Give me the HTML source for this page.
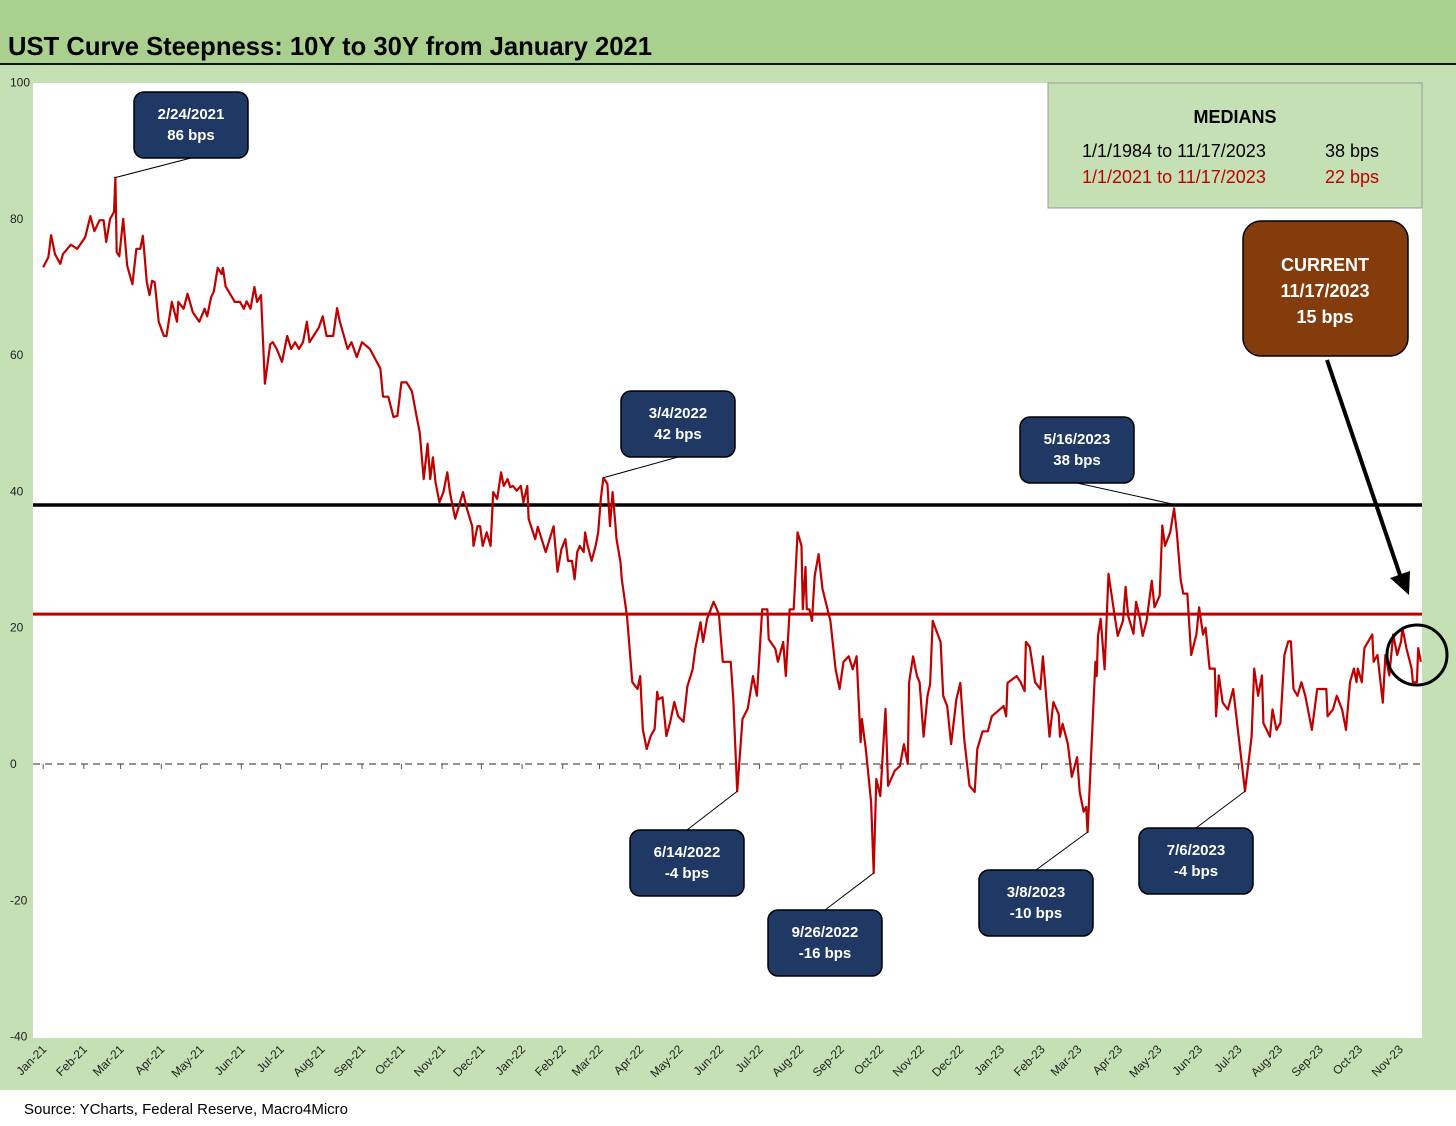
<!DOCTYPE html>
<html><head><meta charset="utf-8"><style>
html,body{margin:0;padding:0;background:#fff}
svg{display:block}
text{font-family:"Liberation Sans",sans-serif}
</style></head><body>
<svg id="chart" width="1456" height="1126" viewBox="0 0 1456 1126">
<rect x="0" y="0" width="1456" height="1090" fill="#c5e0b4"/>
<rect x="0" y="0" width="1456" height="63" fill="#a9d08e"/>
<line x1="0" y1="64" x2="1456" y2="64" stroke="#111" stroke-width="2"/>
<text x="8" y="55" font-size="26" font-weight="bold" textLength="644" lengthAdjust="spacingAndGlyphs" fill="#000">UST Curve Steepness: 10Y to 30Y from January 2021</text>
<rect x="33" y="83" width="1389" height="955" fill="#fff"/>
<rect x="0" y="1090" width="1456" height="36" fill="#fff"/>
<text x="24" y="1114" font-size="15" fill="#000">Source: YCharts, Federal Reserve, Macro4Micro</text>
<g id="axes"></g>
<g id="series"></g>
<g id="annot"></g>
</svg>
<script>
const yTicks=[100,80,60,40,20,0,-20,-40];
const monthLabels=["Jan-21","Feb-21","Mar-21","Apr-21","May-21","Jun-21","Jul-21","Aug-21","Sep-21","Oct-21","Nov-21","Dec-21","Jan-22","Feb-22","Mar-22","Apr-22","May-22","Jun-22","Jul-22","Aug-22","Sep-22","Oct-22","Nov-22","Dec-22","Jan-23","Feb-23","Mar-23","Apr-23","May-23","Jun-23","Jul-23","Aug-23","Sep-23","Oct-23","Nov-23"];
const medianLong=38;
const median2021=22;
const days=[0,4,6,9,13,15,21,26,32,36,39,43,46,48,51,54,55,56,58,61,64,68,71,74,76,79,81,83,85,88,92,94,98,102,103,107,110,114,119,123,125,128,130,133,136,137,139,146,150,153,155,158,161,163,166,169,173,175,178,182,186,189,192,195,198,201,203,210,213,216,221,224,226,232,235,239,243,249,257,259,263,267,270,273,277,281,285,287,290,293,295,297,299,302,305,308,310,314,320,323,327,328,331,333,335,338,341,343,346,349,351,354,356,358,361,364,366,369,370,375,377,383,389,392,395,398,400,403,404,405,407,409,412,413,415,418,421,423,425,427,430,432,434,436,437,440,441,445,449,453,455,457,460,463,466,468,469,472,475,478,481,484,488,491,495,497,501,503,506,511,515,518,524,526,529,533,537,541,544,548,552,553,558,560,564,566,569,572,575,578,579,581,582,584,586,588,591,594,600,604,607,610,614,617,620,623,624,627,631,633,635,638,642,644,649,653,656,659,660,663,666,668,671,674,676,678,684,686,689,692,696,699,702,706,710,712,716,720,723,732,734,735,742,745,748,749,752,756,760,762,767,770,774,775,777,781,784,788,790,793,795,796,802,803,804,806,809,812,815,819,823,825,827,831,833,836,838,841,845,847,851,853,855,859,862,864,867,869,872,875,879,881,884,886,889,893,894,896,899,903,907,910,916,921,923,926,929,930,935,937,940,943,946,949,951,953,956,959,962,967,971,978,979,983,986,990,993,996,999,1001,1002,1005,1007,1013,1014,1017,1021,1023,1026,1029,1032,1035,1036,1039,1043,1044,1047,1048,1050];
const bps=[72.9,74.4,77.6,74.8,73.4,74.8,76.2,75.6,77.3,80.4,78.2,79.8,79.8,76.6,80,81,86,75.1,74.5,80,73.1,70.4,75.6,75.6,77.5,70.7,68.8,70.9,70.7,64.9,62.8,62.8,67.8,64.9,67.8,66.8,69,66.3,64.9,66.8,65.7,68.5,69.3,72.8,71.9,72.8,70.1,67.8,67.8,66.8,67.9,66.8,70,67.8,68.8,55.8,61.6,61.9,60.9,59,62.8,60.9,61.9,60.9,61.9,64.9,61.9,64,65.7,62.8,62.8,66.9,65,60.9,61.9,59.7,61.9,60.9,58,53.9,53.9,50.9,51.1,56,56,54.7,50.6,48.7,41.8,47,41.8,45,41.4,38.4,39.9,42.8,39.9,36,39.9,37.4,34.9,32,34.9,34.9,32,34,32,39.9,38.9,42.8,40.8,41.8,40.6,40.8,40.1,40.8,38.4,40.8,36,33,34.8,31.1,34.9,28.2,31.5,33,29.8,29.8,28.6,27.1,31.1,32,31.1,34,32,29.8,32,34,38.9,42,41.1,34.9,39.9,35.5,33,29.6,27.1,21.7,12,11,12.9,5.1,2.2,4.1,5.1,10.6,9.5,9.8,4.1,6.2,9.1,7,6.2,11.4,13.9,16.9,20.8,17.9,21.3,23.8,22,15,15,9.5,-4,6.6,8.1,12.9,10,22.7,22.7,18.3,16.9,15,17.9,12.9,22.7,22.7,34,32,22.7,28.9,22.7,22.7,21,27.6,30.8,25.7,21,13.9,11,15,15.8,13.9,15.8,3.2,6.6,2.2,-5.6,-16,-2.2,-4.7,8.1,-3.2,-1,-0.3,2.9,0,12,15.8,12.9,12,4,10,11.7,21,17.9,10,8.5,2.9,9.5,11.9,3.7,-3.2,-4.1,2.2,4.8,4.8,7,8.5,7,11.9,12.9,12,10.7,17.9,17.2,12,11,15.8,4,9.1,7.3,4,5.9,2.9,-1.9,1,-4.1,-7,-6.3,-10,15,12.9,18.8,21.3,13.9,27.9,23.9,18.8,21,26,21.7,19.1,23.8,21.3,18.8,21,26.9,23,24.7,35,32,34,37.5,34,27,25,25,16,19,23,19,20,14,14,7,13,9,8,11,6,-4,4,14,10,13,6,4,8,5,6,16,18,18,11,10,12,10,5,11,11,7,8,10,8,5,12,14,12,14,12,17,19,15,16,9,16,13,19,16,18,20,17,14,12,12,17,15];
const calloutDates=["2/24/2021","3/4/2022","5/16/2023","6/14/2022","9/26/2022","3/8/2023","7/6/2023"];
const calloutValues=[86,42,38,-4,-16,-10,-4];
const calloutDays=[54,427,864,529,633,796,916];

const NS="http://www.w3.org/2000/svg";
function mk(tag,attrs,parent,txt){const e=document.createElementNS(NS,tag);for(const k in attrs)e.setAttribute(k,attrs[k]);if(txt!==undefined)e.textContent=txt;parent.appendChild(e);return e;}
const X0=43.2,XS=1.312;
function xs(d){return X0+d*XS;}
const Y_TOP=82.5,Y_BOT=1036.6;
function ys(v){return Y_BOT-(v-(-40))/(140)*(Y_BOT-Y_TOP);}
function dayOfMonth(i){return Math.round((Date.UTC(2021,i,1)-Date.UTC(2021,0,1))/86400000);}

const axes=document.getElementById('axes');
yTicks.forEach(t=>{
  const e=mk('text',{x:10,y:ys(t)+4,'font-size':12,fill:'#222'},axes,String(t));
  
  
});
// zero line
const zl=mk('line',{x1:33,y1:ys(0),x2:1422,y2:ys(0),stroke:'#555','stroke-width':1.3,'stroke-dasharray':'7,5'},axes);


monthLabels.forEach((m,i)=>{
  const x=xs(dayOfMonth(i));
  const tk=mk('line',{x1:x,y1:ys(0),x2:x,y2:ys(0)+5,stroke:'#555','stroke-width':1},axes);
  
  
  const e=mk('text',{x:x+4,y:1050,'font-size':12,fill:'#222','text-anchor':'end',transform:`rotate(-45 ${x+4} 1050)`},axes,m);
  
  
});
const series=document.getElementById('series');
const l1=mk('line',{x1:33,y1:ys(medianLong),x2:1422,y2:ys(medianLong),stroke:'#000','stroke-width':3.5},series);


const l2=mk('line',{x1:33,y1:ys(median2021),x2:1422,y2:ys(median2021),stroke:'#c00000','stroke-width':3},series);


const pts=days.map((d,i)=>xs(d).toFixed(1)+','+ys(bps[i]).toFixed(1)).join(' ');
const pl=mk('polyline',{points:pts,fill:'none',stroke:'#c00000','stroke-width':2.2,'stroke-linejoin':'round'},series);



// callouts
const annot=document.getElementById('annot');
const boxPos=[[134,92],[621,391],[1020,417],[630,830],[768,910],[979,870],[1139,828]];
calloutDates.forEach((d,i)=>{
  const [bx,by]=boxPos[i];
  const px=xs(calloutDays[i]),py=ys(calloutValues[i]);
  const above=calloutValues[i]>0;
  const lx=bx+57,ly=above?by+66:by;
  const ln=mk('line',{x1:px,y1:py,x2:lx,y2:ly,stroke:'#000','stroke-width':1},annot);
  
  
  const r=mk('rect',{x:bx,y:by,width:114,height:66,rx:10,fill:'#1f3864',stroke:'#000','stroke-width':1.5},annot);
  
  
  const t1=mk('text',{x:bx+57,y:by+27,'font-size':15,'font-weight':'bold',fill:'#fff','text-anchor':'middle'},annot,d);
  
  
  const t2=mk('text',{x:bx+57,y:by+48,'font-size':15,'font-weight':'bold',fill:'#fff','text-anchor':'middle'},annot,calloutValues[i]+' bps');
  
  
});
</script>
<svg width="0" height="0"></svg>
<script>
(function(){
const NS="http://www.w3.org/2000/svg";
const svg=document.getElementById('chart');
const g=document.createElementNS(NS,'g');svg.appendChild(g);
g.innerHTML=`
<rect x="1048" y="83" width="374" height="125" fill="#c5e0b4" stroke="#999" stroke-width="1"/>
<text x="1235" y="123" font-size="18" font-weight="bold" text-anchor="middle" fill="#000">MEDIANS</text>
<text x="1082" y="157" font-size="18" fill="#000">1/1/1984 to 11/17/2023</text>
<text x="1325" y="157" font-size="18" fill="#000">38 bps</text>
<text x="1082" y="183" font-size="18" fill="#c00000">1/1/2021 to 11/17/2023</text>
<text x="1325" y="183" font-size="18" fill="#c00000">22 bps</text>
<rect x="1243" y="221" width="165" height="135" rx="18" fill="#843c0c" stroke="#000" stroke-width="1.5"/>
<text x="1325" y="271" font-size="18" font-weight="bold" text-anchor="middle" fill="#fff">CURRENT</text>
<text x="1325" y="297" font-size="18" font-weight="bold" text-anchor="middle" fill="#fff">11/17/2023</text>
<text x="1325" y="323" font-size="18" font-weight="bold" text-anchor="middle" fill="#fff">15 bps</text>
<line x1="1327" y1="360" x2="1400" y2="575" stroke="#000" stroke-width="4"/>
<polygon points="1409,595 1390,578 1410,571" fill="#000"/>
<circle cx="1417" cy="655" r="30" fill="none" stroke="#000" stroke-width="3"/>`;
})();
</script>
</body></html>
